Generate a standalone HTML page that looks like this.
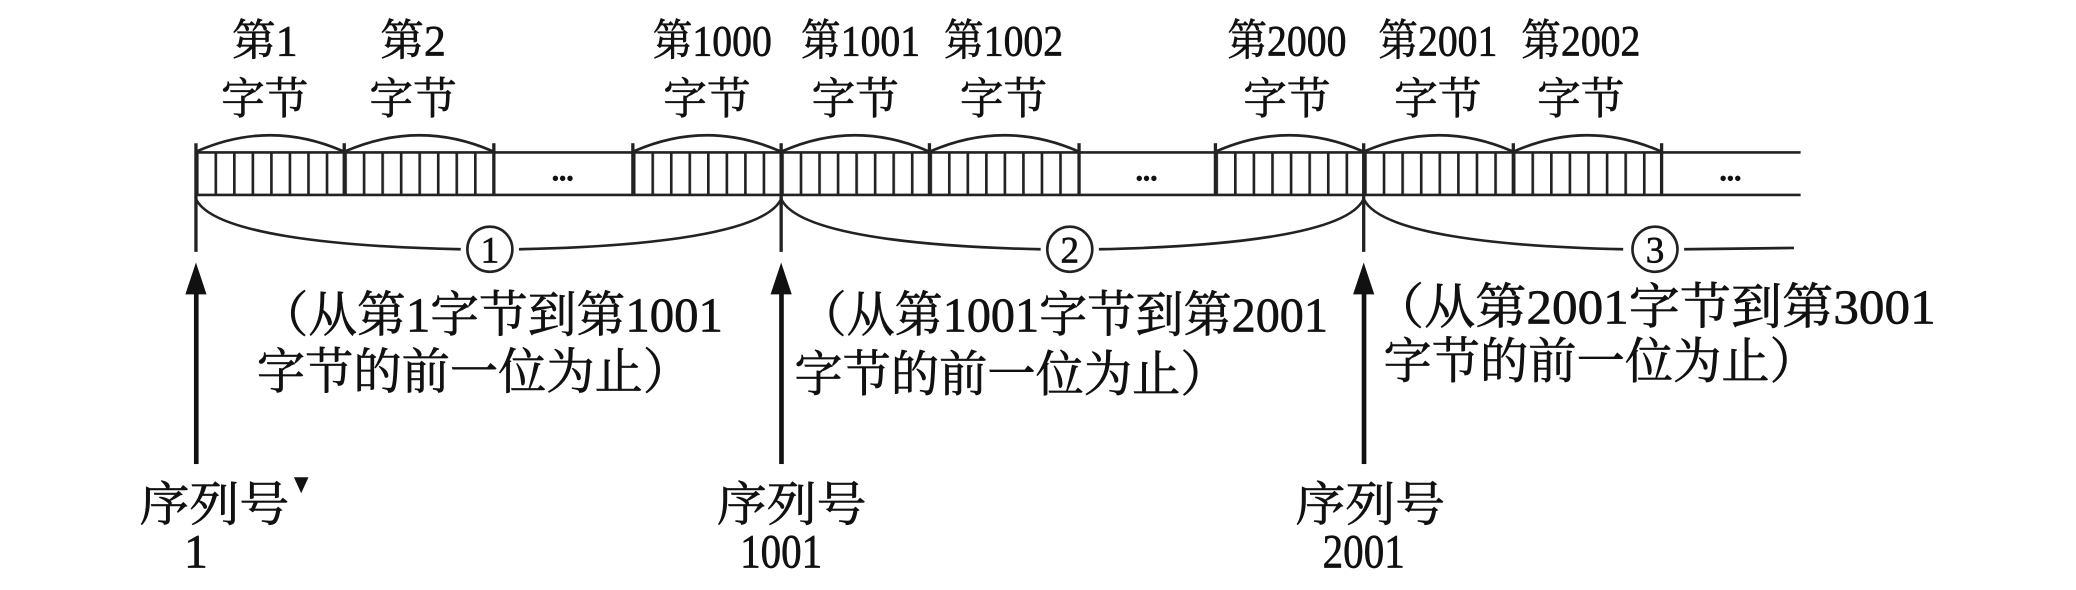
<!DOCTYPE html>
<html><head><meta charset="utf-8"><style>
html,body{margin:0;padding:0;background:#fff;}
svg{display:block;}
text{font-family:"Liberation Serif","Noto Serif CJK SC","Noto Sans CJK SC",serif;fill:#111;stroke:#111;stroke-width:0.5;}
</style></head><body>
<svg width="2076" height="590" viewBox="0 0 1568 445" preserveAspectRatio="none" xmlns="http://www.w3.org/2000/svg">
<defs>
<pattern id="p1" x="148" y="0" width="14" height="445" patternUnits="userSpaceOnUse"><rect x="0" y="0" width="2" height="445" fill="#222"/></pattern>
<pattern id="p2" x="478" y="0" width="14" height="445" patternUnits="userSpaceOnUse"><rect x="0" y="0" width="2" height="445" fill="#222"/></pattern>
<pattern id="p3" x="918" y="0" width="14.04" height="445" patternUnits="userSpaceOnUse"><rect x="0" y="0" width="2" height="445" fill="#222"/></pattern>
</defs>
<g stroke="#222" stroke-width="2" fill="none">
<line x1="148" y1="115" x2="1360" y2="115"/>
<line x1="148" y1="147" x2="1360" y2="147"/>
</g>
<rect x="148" y="115" width="225" height="32" fill="url(#p1)"/>
<rect x="478" y="115" width="337" height="32" fill="url(#p2)"/>
<rect x="918" y="115" width="337" height="32" fill="url(#p3)"/>
<g stroke="#222" stroke-width="2.5" fill="none">
<line x1="148" y1="108" x2="148" y2="190"/>
<line x1="260" y1="108" x2="260" y2="147"/>
<line x1="373" y1="108" x2="373" y2="147"/>
<line x1="478" y1="108" x2="478" y2="147"/>
<line x1="590" y1="108" x2="590" y2="190"/>
<line x1="702" y1="108" x2="702" y2="147"/>
<line x1="815" y1="108" x2="815" y2="147"/>
<line x1="918" y1="108" x2="918" y2="147"/>
<line x1="1030" y1="108" x2="1030" y2="190"/>
<line x1="1143" y1="108" x2="1143" y2="147"/>
<line x1="1255" y1="108" x2="1255" y2="147"/>
</g>
<g stroke="#222" stroke-width="2" fill="none">
<path d="M149 114 Q204 90 259 114"/>
<path d="M261 114 Q317 90 372 114"/>
<path d="M479 114 Q534 90 589 114"/>
<path d="M591 114 Q646 90 701 114"/>
<path d="M703 114 Q759 90 814 114"/>
<path d="M919 114 Q974 90 1029 114"/>
<path d="M1031 114 Q1087 90 1142 114"/>
<path d="M1144 114 Q1199 90 1254 114"/>
<path d="M148 150 C160 176 250 186 348 188"/>
<path d="M392 188 C490 186 578 176 590 150"/>
<path d="M590 150 C602 176 690 186 786 188"/>
<path d="M830 188 C930 186 1018 176 1030 150"/>
<path d="M1030 150 C1042 176 1130 186 1226 188"/>
<path d="M1272 188 L1355 187"/>
<circle cx="370" cy="188" r="17"/>
<circle cx="808" cy="188" r="17"/>
<circle cx="1250" cy="188" r="17"/>
</g>
<g font-size="28" text-anchor="middle">
<text x="370" y="198">1</text>
<text x="808" y="198">2</text>
<text x="1250" y="198">3</text>
</g>
<g font-size="22" font-weight="bold" text-anchor="middle">
<text x="425" y="136">...</text>
<text x="866" y="136">...</text>
<text x="1307" y="136">...</text>
</g>
<g fill="#111">
<rect x="146.5" y="215" width="3.5" height="135"/>
<polygon points="148,198 140,222 156,222"/>
<rect x="588.5" y="215" width="3.5" height="135"/>
<polygon points="590,198 582,222 598,222"/>
<rect x="1028.5" y="215" width="3.5" height="135"/>
<polygon points="1030,198 1022,222 1038,222"/>
<polygon points="222,360 233,360 227.5,372"/>
</g>
<g font-size="33" text-anchor="middle">
<text x="200" y="42">第1</text><text x="200" y="86">字节</text>
<text x="312" y="42">第2</text><text x="312" y="86">字节</text>
<text x="538" y="42" textLength="90" lengthAdjust="spacingAndGlyphs">第1000</text><text x="534" y="86">字节</text>
<text x="650" y="42" textLength="90" lengthAdjust="spacingAndGlyphs">第1001</text><text x="646" y="86">字节</text>
<text x="758" y="42" textLength="90" lengthAdjust="spacingAndGlyphs">第1002</text><text x="758" y="86">字节</text>
<text x="972" y="42" textLength="90" lengthAdjust="spacingAndGlyphs">第2000</text><text x="972" y="86">字节</text>
<text x="1086" y="42" textLength="90" lengthAdjust="spacingAndGlyphs">第2001</text><text x="1086" y="86">字节</text>
<text x="1194" y="42" textLength="90" lengthAdjust="spacingAndGlyphs">第2002</text><text x="1194" y="86">字节</text>
</g>
<g font-size="37">
<text x="196" y="250" textLength="350" lengthAdjust="spacingAndGlyphs">（从第1字节到第1001</text>
<text x="194" y="293" textLength="328" lengthAdjust="spacingAndGlyphs">字节的前一位为止）</text>
<text x="603" y="250" textLength="400" lengthAdjust="spacingAndGlyphs">（从第1001字节到第2001</text>
<text x="600" y="295" textLength="328" lengthAdjust="spacingAndGlyphs">字节的前一位为止）</text>
<text x="1037" y="244" textLength="425" lengthAdjust="spacingAndGlyphs">（从第2001字节到第3001</text>
<text x="1045" y="285" textLength="328" lengthAdjust="spacingAndGlyphs">字节的前一位为止）</text>
</g>
<g font-size="36" text-anchor="middle">
<text x="162" y="393" textLength="113" lengthAdjust="spacingAndGlyphs">序列号</text><text x="148" y="428">1</text>
<text x="598" y="393" textLength="113" lengthAdjust="spacingAndGlyphs">序列号</text><text x="590" y="428" textLength="62" lengthAdjust="spacingAndGlyphs">1001</text>
<text x="1035" y="393" textLength="113" lengthAdjust="spacingAndGlyphs">序列号</text><text x="1030" y="428" textLength="62" lengthAdjust="spacingAndGlyphs">2001</text>
</g>
</svg>
</body></html>
